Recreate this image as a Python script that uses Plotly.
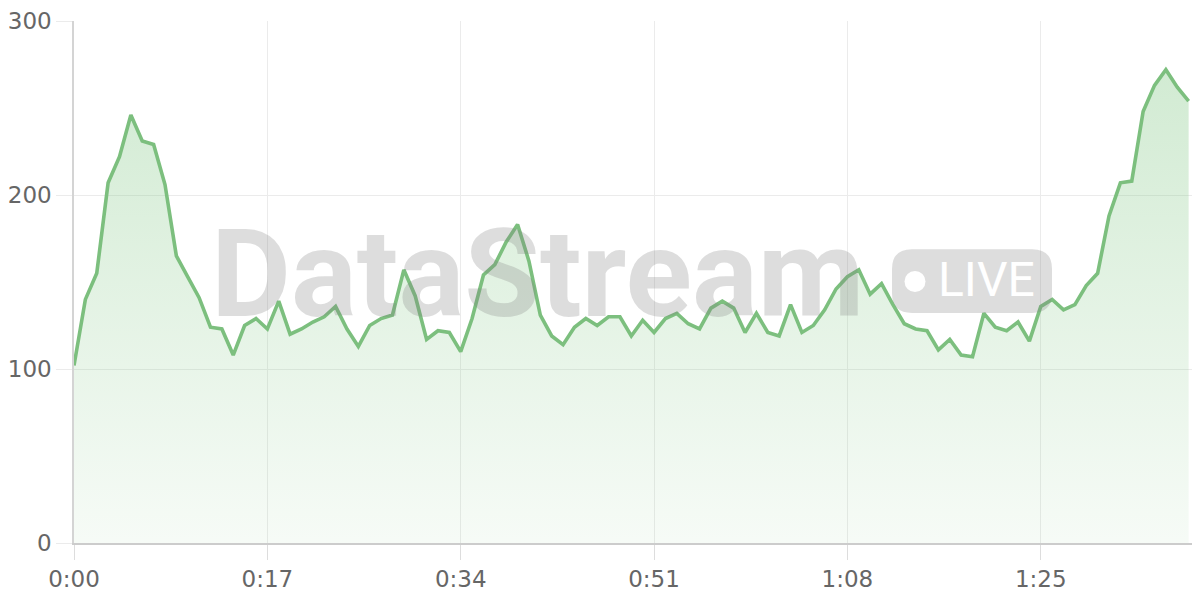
import plotly.graph_objects as go

# ---- data ----
seconds_labels = ["0:00", "0:17", "0:34", "0:51", "1:08", "1:25"]
tick_seconds = [0, 17, 34, 51, 68, 85]
values = [102, 140, 155, 207, 222, 246, 231, 229, 206, 165,
          153, 141, 124, 123, 108, 125, 129, 123, 139, 120,
          123, 127, 130, 136, 123, 113, 125, 129, 131, 157,
          142, 117, 122, 121, 110, 129, 154, 160, 173, 183,
          162, 131, 119, 114, 124, 129, 125, 130, 130, 119,
          128, 121, 129, 132, 126, 123, 135, 139, 135, 121,
          132, 121, 119, 137, 121, 125, 134, 146, 153, 157,
          143, 149, 137, 126, 123, 122, 111, 117, 108, 107,
          132, 124, 122, 127, 116, 136, 140, 134, 137, 148,
          155, 188, 207, 208, 248, 263, 272, 262, 254]
x_seconds = list(range(len(values)))
y_ticks = [0, 100, 200, 300]

# ---- layout constants (pixels, screen coords; page body has 8px offset) ----
OFF = 8
W, H = 1200 - OFF, 600 - OFF
ML, MT = 74 - OFF, 19 - OFF
MR, MB = 0, H - (543 - OFF)
PW, PH = W - ML - MR, H - MT - MB


def px_x(p):
    return (p - OFF - ML) / PW


def px_y(p):
    return 1 - (p - OFF - MT) / PH


LINE = "#7cbf7e"
WM = "rgba(128,128,128,0.27)"

fig = go.Figure()
fig.add_trace(go.Scatter(
    x=x_seconds, y=values, mode="lines",
    line=dict(color=LINE, width=3.6),
    fill="tozeroy",
    fillgradient=dict(type="vertical",
                      colorscale=[[0, "rgba(129,199,132,0.07)"],
                                  [1, "rgba(129,199,132,0.36)"]]),
    hoverinfo="skip", showlegend=False,
))

# rounded badge
bx0, bx1, by0, by1, r = 892, 1052, 248, 312, 20
rx, ry = r / PW, r / PH
X0, X1, Y0, Y1 = px_x(bx0), px_x(bx1), px_y(by1), px_y(by0)
path = (f"M {X0+rx},{Y0} L {X1-rx},{Y0} Q {X1},{Y0} {X1},{Y0+ry} "
        f"L {X1},{Y1-ry} Q {X1},{Y1} {X1-rx},{Y1} L {X0+rx},{Y1} "
        f"Q {X0},{Y1} {X0},{Y1-ry} L {X0},{Y0+ry} Q {X0},{Y0} {X0+rx},{Y0} Z")
shapes = [
    dict(type="path", path=path, xref="paper", yref="paper",
         fillcolor=WM, line=dict(width=0), layer="above"),
    dict(type="circle", xref="paper", yref="paper",
         x0=px_x(904.5), x1=px_x(925.5), y0=px_y(291), y1=px_y(270),
         fillcolor="white", line=dict(width=0), layer="above"),
]

annotations = [
    dict(text="<b>DataStream</b>", xref="paper", yref="paper",
         x=px_x(537), y=px_y(273), xanchor="center", yanchor="middle",
         showarrow=False, font=dict(family="Roboto", size=123, color=WM)),
    dict(text="LIVE", xref="paper", yref="paper",
         x=px_x(936), y=px_y(278), xanchor="left", yanchor="middle",
         showarrow=False, font=dict(family="Roboto", size=48, color="white")),
]

fig.update_layout(
    width=W, height=H,
    margin=dict(l=ML, r=MR, t=MT, b=MB, pad=0),
    paper_bgcolor="white", plot_bgcolor="white",
    shapes=shapes, annotations=annotations,
    font=dict(family="DejaVu Sans", color="#666666", size=23),
    xaxis=dict(range=[0, 99], tickvals=tick_seconds, ticktext=seconds_labels,
               showgrid=True, gridcolor="#ebebeb", gridwidth=1,
               showline=True, linecolor="#cccccc", linewidth=1.5,
               ticks="outside", ticklen=15, tickcolor="#dddddd",
               zeroline=False, ticklabeloverflow="allow",
               tickfont=dict(size=23, color="#666666")),
    yaxis=dict(range=[0, 300], tickvals=y_ticks,
               showgrid=True, gridcolor="#ebebeb", gridwidth=1,
               showline=True, linecolor="#d4d4d4", linewidth=1.5,
               ticks="outside", ticklen=16, tickcolor="#ebebeb",
               zeroline=False, ticklabeloverflow="allow",
               tickfont=dict(size=23, color="#666666")),
)

fig.write_html("out.html")
